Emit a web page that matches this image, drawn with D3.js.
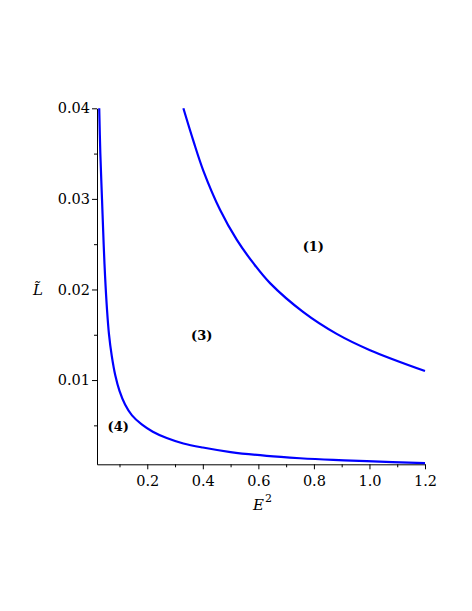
<!DOCTYPE html>
<html>
<head>
<meta charset="utf-8">
<script src="https://cdn.jsdelivr.net/npm/d3@7"></script>
<style>
  body { margin: 0; background: #fff; }
  text { font-family: "DejaVu Serif", serif; }
</style>
</head>
<body>
<svg id="chart" width="472" height="611"></svg>
<script>
// Data
var upperE2 = [0.330, 0.366, 0.402, 0.462, 0.522, 0.582, 0.642, 0.762, 0.882, 1.002, 1.2];
var upperL  = [0.0400, 0.0364, 0.0331, 0.0288, 0.0255, 0.0229, 0.0207, 0.0175, 0.0151, 0.0133, 0.0110];

var lowerE2 = [0.027, 0.031, 0.037, 0.043, 0.048, 0.055, 0.062, 0.072, 0.085, 0.100, 0.120, 0.145, 0.180, 0.220, 0.270, 0.330, 0.400, 0.500, 0.630, 0.750, 0.870, 0.990, 1.2];
var lowerL  = [0.0400, 0.0350, 0.0300, 0.0250, 0.0215, 0.0178, 0.0151, 0.0127, 0.0105, 0.0088, 0.0073, 0.0061, 0.0051, 0.0043, 0.0036, 0.0030, 0.00255, 0.00205, 0.00163, 0.00137, 0.00118, 0.00104, 0.00084];

var xTicks = [0.2, 0.4, 0.6, 0.8, 1.0, 1.2];
var xMinor = [0.1, 0.3, 0.5, 0.7, 0.9, 1.1];
var yTicks = [0.01, 0.02, 0.03, 0.04];
var yMinor = [0.005, 0.015, 0.025, 0.035];

var regions = [
  {label: "(1)", e2: 0.798, l: 0.0248},
  {label: "(3)", e2: 0.396, l: 0.0149},
  {label: "(4)", e2: 0.0956, l: 0.0049}
];

var svg = d3.select("#chart");
var plotLeft = 97, plotRight = 425, plotTop = 108.3, plotBottom = 464.3;

var x = d3.scaleLinear().domain([0.019, 1.2]).range([plotLeft, plotRight]);
var y = d3.scaleLinear().domain([0.0007, 0.04]).range([plotBottom, plotTop]);

// Axes
var xAxis = svg.append("g")
  .attr("transform", "translate(0," + plotBottom + ")")
  .call(d3.axisBottom(x).tickValues(xTicks).tickFormat(d3.format(".1f")).tickSize(5).tickSizeOuter(0));
svg.append("g")
  .attr("transform", "translate(0," + plotBottom + ")")
  .call(d3.axisBottom(x).tickValues(xMinor).tickFormat("").tickSize(3).tickSizeOuter(0))
  .select(".domain").remove();

var yAxis = svg.append("g")
  .attr("transform", "translate(" + plotLeft + ",0)")
  .call(d3.axisLeft(y).tickValues(yTicks).tickFormat(d3.format(".2f")).tickSize(5).tickSizeOuter(0));
svg.append("g")
  .attr("transform", "translate(" + plotLeft + ",0)")
  .call(d3.axisLeft(y).tickValues(yMinor).tickFormat("").tickSize(3).tickSizeOuter(0))
  .select(".domain").remove();

svg.selectAll(".tick text")
  .style("font-family", "DejaVu Serif, serif")
  .style("font-size", "14.5px")
  .attr("fill", "#000");
xAxis.selectAll(".tick text").attr("dy", "0.95em");
yAxis.selectAll(".tick text").attr("x", -7);
svg.selectAll(".domain, .tick line").attr("stroke", "#000");

// Curves
var line = d3.line()
  .x(function(d) { return x(d[0]); })
  .y(function(d) { return y(d[1]); })
  .curve(d3.curveCatmullRom.alpha(0.5));

var curves = [d3.zip(upperE2, upperL), d3.zip(lowerE2, lowerL)];
svg.append("g")
  .selectAll("path")
  .data(curves)
  .enter().append("path")
  .attr("d", line)
  .attr("fill", "none")
  .attr("stroke", "#0000ff")
  .attr("stroke-width", 2.2);

// Region labels
svg.append("g")
  .selectAll("text")
  .data(regions)
  .enter().append("text")
  .attr("x", function(d) { return x(d.e2); })
  .attr("y", function(d) { return y(d.l); })
  .attr("dy", "0.35em")
  .attr("text-anchor", "middle")
  .style("font-size", "13px")
  .style("font-weight", "bold")
  .text(function(d) { return d.label; });

// Axis titles
var xt = svg.append("text")
  .attr("x", 253)
  .attr("y", 510)
  .style("font-size", "15px")
  .style("font-style", "italic");
xt.append("tspan").text("E");
xt.append("tspan").attr("dy", -8).attr("dx", 1).style("font-size", "11px").style("font-style", "normal").text("2");

svg.append("text")
  .attr("x", 38)
  .attr("y", 295)
  .attr("text-anchor", "middle")
  .style("font-size", "15px")
  .style("font-style", "italic")
  .text("L\u0303");
</script>
</body>
</html>
